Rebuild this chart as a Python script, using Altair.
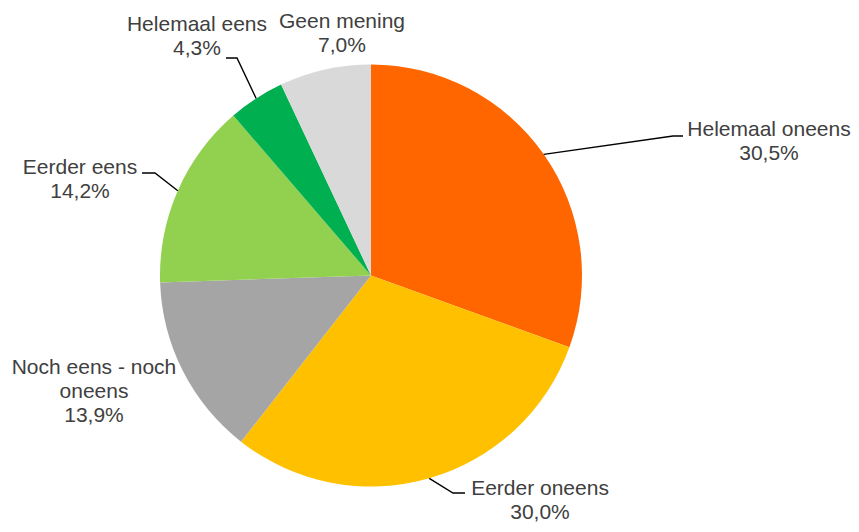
import math
import altair as alt
import pandas as pd

# ---- data ----
categories = ["Helemaal oneens", "Eerder oneens", "Noch eens - noch oneens",
              "Eerder eens", "Helemaal eens", "Geen mening"]
values = [30.5, 30.0, 13.9, 14.2, 4.3, 7.0]
value_labels = ["30,5%", "30,0%", "13,9%", "14,2%", "4,3%", "7,0%"]
label_names = ["Helemaal oneens", "Eerder oneens", "Noch eens - noch\noneens",
               "Eerder eens", "Helemaal eens", "Geen mening"]
colors = ["#FF6600", "#FFC000", "#A5A5A5", "#92D050", "#00B050", "#D9D9D9"]

# ---- layout (pixels inside the chart area) ----
W, H = 843, 516
CX, CY, R = 363, 267.5, 211
# centre of the first text line of each label
label_xy = [(761, 122), (532, 481), (86, 360), (72, 160), (189, 17), (334, 14)]
# leader line elbow and end (None = no leader)
leader = [((665, 128), (675, 128)),
          ((445, 485), (457, 485)),
          None,
          ((147, 165), (134, 165)),
          ((229, 50), (218, 50)),
          None]

total = sum(values)
df = pd.DataFrame({
    "cat": categories, "value": values, "idx": list(range(len(values))),
})

lab = pd.DataFrame({
    "text": [f"{n}\n{v}" for n, v in zip(label_names, value_labels)],
    "x": [p[0] for p in label_xy],
    "y": [p[1] for p in label_xy],
})

rows = []
cum = 0.0
for i, v in enumerate(values):
    mid = 2 * math.pi * (cum + v / 2) / total
    cum += v
    if leader[i] is None:
        continue
    ex, ey = CX + R * math.sin(mid), CY - R * math.cos(mid)
    pts = [(ex, ey), leader[i][0], leader[i][1]]
    for k, (px, py) in enumerate(pts):
        rows.append({"cat": categories[i], "k": k, "x": px, "y": py})
lines = pd.DataFrame(rows)

xs = alt.Scale(domain=[0, W], nice=False, zero=False)
ys = alt.Scale(domain=[0, H], nice=False, zero=False, reverse=True)

pie = alt.Chart(df).mark_arc(stroke=None).encode(
    theta=alt.Theta("value:Q", stack=True),
    order=alt.Order("idx:O"),
    color=alt.Color("cat:N", scale=alt.Scale(domain=categories, range=colors), legend=None),
    x=alt.datum(CX, scale=xs, axis=None),
    y=alt.datum(CY, scale=ys, axis=None),
    radius=alt.value(R),
)

lead = alt.Chart(lines).mark_line(color="#000000", strokeWidth=1.4).encode(
    x=alt.X("x:Q", scale=xs, axis=None),
    y=alt.Y("y:Q", scale=ys, axis=None),
    detail="cat:N",
    order="k:O",
)

text = alt.Chart(lab).mark_text(
    font="Liberation Sans", fontSize=21, lineHeight=24, color="#404040",
    align="center", baseline="middle", lineBreak="\n",
).encode(
    x=alt.X("x:Q", scale=xs, axis=None),
    y=alt.Y("y:Q", scale=ys, axis=None),
    text="text:N",
)

chart = alt.layer(pie, lead, text).properties(
    width=W, height=H, padding=0,
    autosize=alt.AutoSizeParams(type="none"),
).configure_view(stroke=None)

chart.save("out.html", embed_options={"renderer": "svg", "actions": False})
